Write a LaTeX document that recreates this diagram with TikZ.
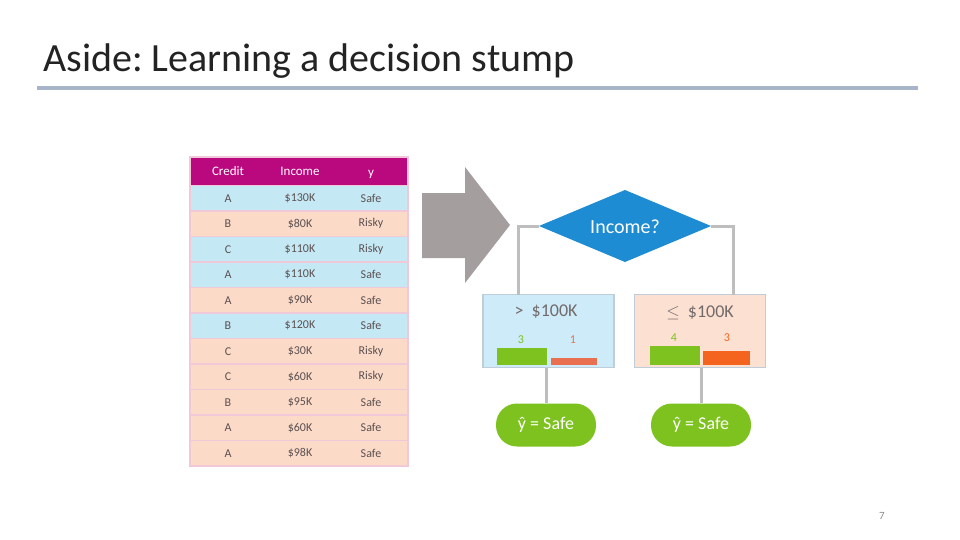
\documentclass[tikz,border=0pt]{standalone}
\usepackage{fontspec}
\setmainfont{Carlito}
\usetikzlibrary{shapes.geometric,calc}
\frenchspacing
\definecolor{titlegray}{RGB}{35,35,35}
\definecolor{rulecol}{RGB}{170,180,200}
\definecolor{hdr}{RGB}{186,8,126}
\definecolor{rowblue}{RGB}{197,232,245}
\definecolor{rowpeach}{RGB}{252,218,200}
\definecolor{sepcol}{RGB}{240,200,215}
\definecolor{txtgray}{RGB}{90,80,80}
\definecolor{arrowgray}{RGB}{165,158,158}
\definecolor{diablue}{RGB}{30,140,210}
\definecolor{linegray}{RGB}{190,190,190}
\definecolor{boxblue}{RGB}{205,235,248}
\definecolor{boxpeach}{RGB}{252,224,210}
\definecolor{boxborder}{RGB}{190,205,215}
\definecolor{leafgreen}{RGB}{125,194,30}
\definecolor{orangeA}{RGB}{232,112,80}
\definecolor{orangeB}{RGB}{245,100,30}
\tikzset{
  rowcell/.style={draw=sepcol, line width=1.2pt, minimum width=218pt, minimum height=25.5pt, inner sep=0pt},
  celltext/.style={text=txtgray, font=\fontsize{12}{14}\selectfont, inner sep=0pt},
  hdrtext/.style={text=white, font=\fontsize{13}{15}\selectfont, inner sep=0pt},
  conn/.style={draw=linegray, line width=3pt},
  splitbox/.style={draw=boxborder, line width=1.5pt, minimum width=131pt, minimum height=73pt, inner sep=0pt},
  bar/.style={inner sep=0pt, minimum width=50pt},
  leafpill/.style={fill=leafgreen, rounded corners=21pt, minimum width=100pt, minimum height=43pt, inner sep=0pt, text=white, font=\fontsize{18}{20}\selectfont},
  boxtext/.style={text=txtgray!85, font=\fontsize{18}{20}\selectfont, inner sep=0pt},
  cnt/.style={font=\fontsize{12}{14}\selectfont, inner sep=0pt}
}
\begin{document}
\begin{tikzpicture}[x=1pt,y=-1pt]
\useasboundingbox[fill=white] (0,0) rectangle (960,540);
% title
\node[anchor=base west, inner sep=0pt, text=titlegray, font=\fontsize{40}{42}\selectfont] (title) at (43,72) {Aside: Learning a decision stump};
\draw[rulecol, line width=4pt] (37,88) -- (918,88);
% table header
\node[fill=hdr, draw=sepcol, line width=1.2pt, minimum width=218pt, minimum height=28.5pt, inner sep=0pt] (hdr) at (299,171.25) {};
\node[hdrtext] (hc) at (228,171) {Credit};
\node[hdrtext] (hi) at (300,171) {Income};
\node[hdrtext] (hy) at (371,174) {y};
% table rows
\foreach \i/\c/\inc/\yv/\col in {
  1/A/\$130K/Safe/rowblue,
  2/B/\$80K/Risky/rowpeach,
  3/C/\$110K/Risky/rowblue,
  4/A/\$110K/Safe/rowblue,
  5/A/\$90K/Safe/rowpeach,
  6/B/\$120K/Safe/rowblue,
  7/C/\$30K/Risky/rowpeach,
  8/C/\$60K/Risky/rowpeach,
  9/B/\$95K/Safe/rowpeach,
  10/A/\$60K/Safe/rowpeach,
  11/A/\$98K/Safe/rowpeach}{
  \node[rowcell, fill=\col] (r\i) at (299,{185.5+25.5*(\i-0.5)}) {};
  \node[celltext] (c\i) at (228,{185.5+25.5*(\i-0.5)}) {\c};
  \node[celltext] (n\i) at (300,{185.5+25.5*(\i-0.5)}) {\inc};
  \node[celltext] (y\i) at (371,{185.5+25.5*(\i-0.5)}) {\yv};
}
% big arrow
\fill[arrowgray] (422,193) -- (465,193) -- (465,167) -- (510,225) -- (465,283) -- (465,258) -- (422,258) -- cycle;
% diamond
\coordinate (diaw) at (539,226);
\coordinate (diae) at (711,226);
\fill[diablue] (diaw) -- (625,190) -- (diae) -- (625,262) -- cycle;
\node[inner sep=0pt, text=white, font=\fontsize{20}{22}\selectfont] (dia) at (625,227) {Income?};
% split boxes
\node[splitbox, fill=boxblue] (lbox) at (548.5,331) {};
\node[splitbox, fill=boxpeach] (rbox) at (700,331) {};
\coordinate (ltop) at (518,294.5);
\coordinate (rtop) at (733,294.5);
\draw[conn] (diaw) -| (ltop);
\draw[conn] (diae) -| (rtop);
% box texts
\node[boxtext] (lt) at (546,312) {>\ \ \$100K};
\node[boxtext] (rt) at (700,313) {$\le$\ \ \$100K};
% counts
\node[cnt, text=leafgreen] (lg) at (521,340) {3};
\node[cnt, text=orangeA] (lo) at (573,340) {1};
\node[cnt, text=leafgreen] (rg) at (674,338) {4};
\node[cnt, text=orangeB] (ro) at (727,338) {3};
% bars
\node[bar, fill=leafgreen, minimum height=17pt] (lgb) at (522,356.5) {};
\node[bar, fill=orangeA, minimum width=46pt, minimum height=7pt] (lob) at (574,361.5) {};
\node[bar, fill=leafgreen, minimum height=19pt] (rgb) at (675,355.5) {};
\node[bar, fill=orangeB, minimum width=47pt, minimum height=14pt] (rob) at (726.5,358) {};
% leaves
\node[leafpill] (lleaf) at (546,425) {ŷ = Safe};
\node[leafpill] (rleaf) at (701,425) {ŷ = Safe};
\draw[conn] (lleaf.north |- lbox.south) -- (lleaf.north);
\draw[conn] (rleaf.north |- rbox.south) -- (rleaf.north);
% page number
\node[text=black!45, font=\fontsize{11}{12}\selectfont, inner sep=0pt] (pg) at (882,516) {7};
\end{tikzpicture}
\end{document}
